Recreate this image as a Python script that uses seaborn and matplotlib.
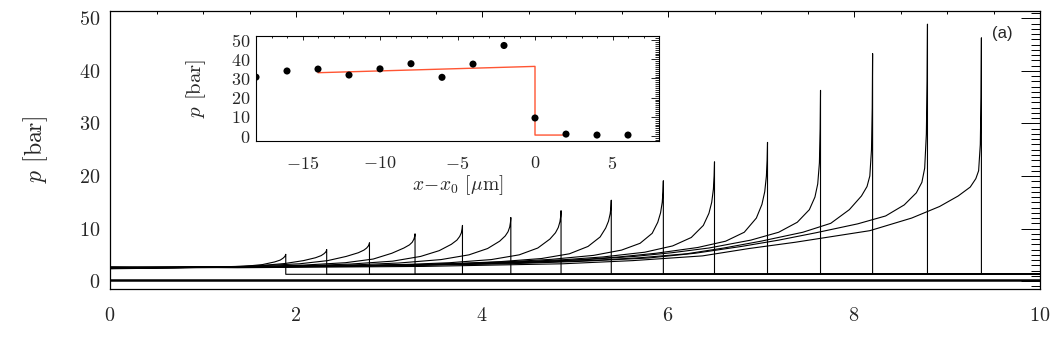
import numpy as np
import pandas as pd
import matplotlib
matplotlib.use("Agg")
import matplotlib.pyplot as plt
import seaborn as sns
from matplotlib.ticker import MultipleLocator

# ---------------- data ----------------
shock_x = [1.89, 2.33, 2.79, 3.28, 3.79, 4.31, 4.85, 5.39, 5.95, 6.50, 7.07, 7.64, 8.20, 8.79, 9.37]
# distance ahead of each shock (x_s - x) where pressure was read
dist = [0, 0.004, 0.012, 0.03, 0.06, 0.12, 0.25, 0.45, 0.75, 1.2, 1.6, 2.0, 2.5, 3.0, 3.75, 4.5, 6.0, 8.0]
p_c01 = [5.1, 4.9, 4.65, 4.35, 4.0, 3.65, 3.15, 2.8, 2.6, 2.5]
p_c02 = [6.0, 5.75, 5.5, 5.2, 4.85, 4.45, 3.9, 3.35, 2.9, 2.65, 2.56, 2.5]
p_c03 = [7.3, 7.0, 6.7, 6.3, 5.9, 5.4, 4.7, 3.9, 3.3, 2.9, 2.72, 2.6]
p_c04 = [9.0, 8.5, 8.0, 7.4, 6.9, 6.3, 5.3, 4.2, 3.5, 3.05, 2.85, 2.7, 2.6, 2.55]
p_c05 = [10.6, 9.9, 9.2, 8.5, 7.8, 7.0, 5.8, 4.7, 3.8, 3.25, 3.0, 2.8, 2.68, 2.6]
p_c06 = [12.1, 11.2, 10.3, 9.4, 8.6, 7.6, 6.2, 5.0, 4.1, 3.45, 3.15, 2.95, 2.8, 2.7, 2.6]
p_c07 = [13.4, 12.3, 11.3, 10.2, 9.2, 8.0, 6.3, 5.0, 4.1, 3.5, 3.22, 3.0, 2.86, 2.75, 2.63, 2.55]
p_c08 = [15.4, 14.0, 12.8, 11.4, 10.1, 8.4, 6.6, 5.2, 4.3, 3.7, 3.4, 3.15, 2.98, 2.85, 2.7, 2.6]
p_c09 = [19.1, 17.0, 15.0, 13.0, 11.2, 9.1, 7.2, 5.9, 4.9, 4.15, 3.75, 3.45, 3.2, 3.0, 2.83, 2.7]
p_c10 = [22.7, 20.0, 17.5, 15.0, 12.9, 10.6, 8.3, 6.7, 5.5, 4.6, 4.1, 3.75, 3.42, 3.15, 2.95, 2.8, 2.6]
p_c11 = [26.4, 23.0, 20.0, 17.0, 14.6, 12.0, 9.3, 7.6, 6.4, 5.3, 4.6, 4.1, 3.68, 3.35, 3.08, 2.9, 2.65]
p_c12 = [36.3, 29.0, 22.5, 18.5, 16.0, 13.6, 11.2, 9.3, 7.8, 6.3, 5.4, 4.7, 4.12, 3.7, 3.33, 3.05, 2.75]
p_c13 = [43.3, 33.0, 25.0, 20.0, 18.0, 16.2, 13.6, 11.0, 9.3, 7.6, 6.3, 5.2, 4.45, 3.95, 3.5, 3.2, 2.8, 2.6]
p_c14 = [48.9, 38.0, 28.0, 21.5, 18.8, 16.8, 14.5, 12.4, 10.9, 9.2, 7.8, 6.6, 5.3, 4.4, 3.75, 3.3, 2.85, 2.6]
p_c15 = [46.3, 35.0, 26.0, 21.0, 19.5, 17.9, 16.2, 14.2, 12.0, 9.6, 8.5, 7.4, 6.2, 4.8, 3.9, 3.3, 2.8, 2.55]
p_curves = [p_c01, p_c02, p_c03, p_c04, p_c05, p_c06, p_c07, p_c08,
            p_c09, p_c10, p_c11, p_c12, p_c13, p_c14, p_c15]
p_start = [2.35, 2.4, 2.4, 2.45, 2.45, 2.5, 2.5, 2.5, 2.55, 2.55, 2.6, 2.6, 2.65, 2.65, 2.7]
p_post = 1.3          # pressure behind the shock
x_range = [0.0, 10.0]
p_floor = 0.3

# inset
inset_x = [-18, -16, -14, -12, -10, -8, -6, -4, -2, 0, 2, 4, 6]
inset_p = [30.7, 33.9, 34.9, 31.8, 35.0, 37.7, 30.6, 37.5, 47.2, 9.4, 1.0, 0.5, 0.5]
model_x = [-14, 0, 0, 2]
model_p = [33.0, 36.3, 0.5, 0.5]

# ---------------- build tables ----------------
rows = []
for i, (xs, ps, p0) in enumerate(zip(shock_x, p_curves, p_start)):
    xx = [x_range[0]] + [xs - d for d in dist[:len(ps)]][::-1] + [xs, x_range[1]]
    pp = [p0] + ps[::-1] + [p_post, p_post]
    for o, (a, b) in enumerate(zip(xx, pp)):
        rows.append(dict(curve=i, order=o, x=a, p=b))
df = pd.DataFrame(rows)
df_model = pd.DataFrame(dict(x=model_x, p=model_p, u=0))
df_floor = pd.DataFrame(dict(x=x_range, p=[p_floor, p_floor], u=0))

# ---------------- style ----------------
sns.set_theme(style="white")
plt.rcParams["font.family"] = ["cmr10", "DejaVu Serif"]
plt.rcParams["mathtext.fontset"] = "cm"
plt.rcParams["axes.formatter.use_mathtext"] = True
plt.rcParams["axes.unicode_minus"] = True

W, H = 1063, 355
fig = plt.figure(figsize=(W / 100, H / 100), dpi=100)

def rect(l, r, t, b):
    return [l / W, 1 - b / H, (r - l) / W, (b - t) / H]

ax = fig.add_axes(rect(110, 1040, 10.5, 289))
sns.lineplot(data=df, x="x", y="p", units="curve", estimator=None, sort=False,
             color="black", lw=0.8, ax=ax, legend=False)
sns.lineplot(data=df_floor, x="x", y="p", units="u", estimator=None, sort=False,
             color="black", lw=1.8, ax=ax, legend=False)
ax.set_xlim(0, 10)
ax.set_ylim(-1.5, 51.5)
ax.xaxis.set_major_locator(MultipleLocator(2))
ax.xaxis.set_minor_locator(MultipleLocator(0.5))
ax.yaxis.set_major_locator(MultipleLocator(10))
ax.yaxis.set_minor_locator(MultipleLocator(1))
ax.tick_params(which="both", direction="in", top=True, right=True, color="black",
               width=0.7, labelsize=14.5)
ax.tick_params(axis="x", which="major", length=4, pad=13)
ax.tick_params(axis="x", which="minor", length=2)
ax.tick_params(axis="y", which="major", length=13.5, pad=7)
ax.tick_params(axis="y", which="minor", length=6.5)
for s in ax.spines.values():
    s.set_color("black")
    s.set_linewidth(0.9)
ax.set_xlabel("")
ax.set_ylabel(r"$p$ [bar]", fontsize=17)
ax.yaxis.set_label_coords(-0.064, 0.5)
ax.text(9.6, 47.2, "(a)", ha="center", va="center", fontsize=12,
        family=["Liberation Sans", "DejaVu Sans"])

# ---------------- inset ----------------
axi = fig.add_axes(rect(256, 659, 35.7, 141))
axi.set_facecolor("white")
sns.lineplot(data=df_model, x="x", y="p", units="u", estimator=None, sort=False,
             color="#ff5533", lw=1.0, ax=axi, legend=False)
sns.scatterplot(x=inset_x, y=inset_p, color="black", s=26, edgecolor="none",
                ax=axi, zorder=3)
axi.set_xlim(-18, 8)
axi.set_ylim(-2.6, 52.3)
axi.xaxis.set_major_locator(MultipleLocator(5))
axi.xaxis.set_minor_locator(MultipleLocator(1))
axi.yaxis.set_major_locator(MultipleLocator(10))
axi.yaxis.set_minor_locator(MultipleLocator(1))
axi.tick_params(which="both", direction="in", top=True, right=True, color="black",
                width=0.6, labelsize=13)
axi.tick_params(axis="x", which="major", length=3, pad=10)
axi.tick_params(axis="x", which="minor", length=1.5)
axi.tick_params(axis="y", which="major", length=6, pad=4)
axi.tick_params(axis="y", which="minor", length=3)
for s in axi.spines.values():
    s.set_color("black")
    s.set_linewidth(0.8)
axi.set_xlabel(r"$x\!-\!x_0$ [$\mu$m]", fontsize=14, labelpad=1)
axi.set_ylabel(r"$p$ [bar]", fontsize=15)
axi.yaxis.set_label_coords(-0.119, 0.5)

fig.savefig("out.png", dpi=100)
